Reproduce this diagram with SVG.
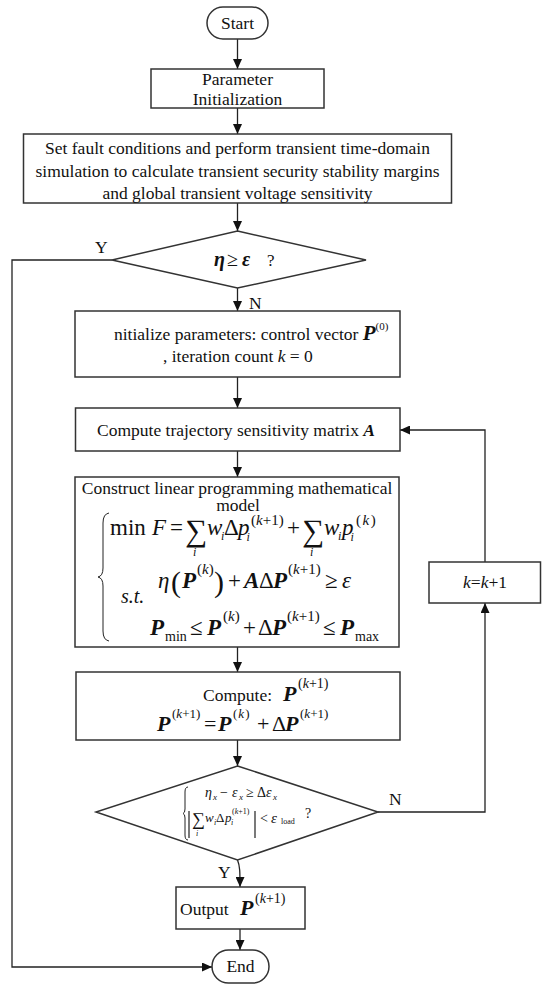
<svg xmlns="http://www.w3.org/2000/svg" width="550" height="990" viewBox="0 0 550 990">
<defs>
<marker id="ah" markerUnits="userSpaceOnUse" markerWidth="10" markerHeight="9" refX="10" refY="4.5" orient="auto">
<path d="M0,0 L10,4.5 L0,9 Z" fill="#111"/>
</marker>
<style>
.box{fill:#fff;stroke:#333;stroke-width:1.5}
.ln{fill:none;stroke:#222;stroke-width:1.3}
.t{font-family:"Liberation Serif","Times New Roman",serif;font-size:17.5px;fill:#111}
.m{font-family:"Liberation Serif","Times New Roman",serif;fill:#111}
.i{font-style:italic}
.bi{font-style:italic;font-weight:bold}
.br{fill:none;stroke:#222;stroke-width:1}
.bar{fill:none;stroke:#222;stroke-width:1.2}
</style>
</defs>
<rect width="550" height="990" fill="#fff"/>

<g id="connectors">
<path class="ln" d="M237.5,39 V69" marker-end="url(#ah)"/>
<path class="ln" d="M237.5,108 V134" marker-end="url(#ah)"/>
<path class="ln" d="M237.5,203 V231" marker-end="url(#ah)"/>
<path class="ln" d="M112,260 H12 V967 H212" marker-end="url(#ah)"/>
<path class="ln" d="M237.5,288 V311" marker-end="url(#ah)"/>
<path class="ln" d="M237.5,377 V408" marker-end="url(#ah)"/>
<path class="ln" d="M237.5,451 V477" marker-end="url(#ah)"/>
<path class="ln" d="M237.5,647 V672" marker-end="url(#ah)"/>
<path class="ln" d="M237.5,740 V766" marker-end="url(#ah)"/>
<path class="ln" d="M378,812 H485 V603" marker-end="url(#ah)"/>
<path class="ln" d="M485,562 V430 H400" marker-end="url(#ah)"/>
<path class="ln" d="M237.5,860 C240,866 240,872 240,887" marker-end="url(#ah)"/>
<path class="ln" d="M240,929 V950" marker-end="url(#ah)"/>
<text class="t" x="95" y="253">Y</text>
<text class="t" x="249" y="309">N</text>
<text class="t" x="389" y="805">N</text>
<text class="t" x="218" y="878">Y</text>
</g>

<g id="start">
<rect class="box" x="207" y="7" width="61" height="32" rx="16"/>
<text class="t" x="237.5" y="29" text-anchor="middle">Start</text>
</g>

<g id="param-init">
<rect class="box" x="151" y="69" width="173" height="39"/>
<text class="t" x="237.5" y="85" text-anchor="middle">Parameter</text>
<text class="t" x="237.5" y="105" text-anchor="middle">Initialization</text>
</g>

<g id="fault-sim">
<rect class="box" x="23.5" y="134" width="428" height="69"/>
<text class="t" x="237.5" y="154" text-anchor="middle">Set fault conditions and perform transient time-domain</text>
<text class="t" x="237.5" y="176.5" text-anchor="middle">simulation to calculate transient security stability margins</text>
<text class="t" x="237.5" y="198.5" text-anchor="middle">and global transient voltage sensitivity</text>
</g>

<g id="check1">
<polygon class="box" points="237.5,231 366,260 237.5,288 112,260"/>
<text class="m" font-size="20" y="266"><tspan class="bi" x="214">η</tspan><tspan x="227">≥</tspan><tspan class="bi" x="242">ε</tspan><tspan x="267" font-size="17">?</tspan></text>
</g>

<g id="init-params">
<rect class="box" x="75" y="311" width="325" height="66"/>
<text class="t" x="114" y="340">nitialize parameters: control vector <tspan class="bi" font-size="21">P</tspan><tspan font-size="11" dy="-10">(0)</tspan></text>
<text class="t" x="163" y="362">, iteration count <tspan class="i">k</tspan> = 0</text>
</g>

<g id="traj-sens">
<rect class="box" x="75.5" y="408" width="324.5" height="43"/>
<text class="t" x="97" y="436">Compute trajectory sensitivity matrix <tspan class="bi">A</tspan></text>
</g>

<g id="lp-model">
<rect class="box" x="75" y="477" width="324" height="170"/>
<text class="t" x="237" y="494" text-anchor="middle">Construct linear programming mathematical</text>
<text class="t" x="238" y="510.5" text-anchor="middle">model</text>
<path class="br" d="M109,513 Q103,514 103,523 V568 Q103,576 98,577 Q103,578 103,586 V631 Q103,640 109,641"/>
<text class="m" font-size="23" y="535"><tspan x="110">min</tspan><tspan class="i" x="152">F</tspan><tspan x="170">=</tspan><tspan x="185" y="541" font-size="31">∑</tspan><tspan class="i" x="207" y="535">w</tspan><tspan class="i" x="221" y="540" font-size="12">i</tspan><tspan x="224" y="535">Δ</tspan><tspan class="i" x="238">p</tspan><tspan class="i" x="246.5" y="541" font-size="12">i</tspan><tspan x="251" y="525" font-size="15">(<tspan class="i">k</tspan>+1)</tspan><tspan x="287" y="535">+</tspan><tspan x="302" y="541" font-size="31">∑</tspan><tspan class="i" x="324" y="535">w</tspan><tspan class="i" x="338" y="540" font-size="12">i</tspan><tspan class="i" x="342" y="535">p</tspan><tspan class="i" x="350.5" y="541" font-size="12">i</tspan><tspan x="356" y="525" font-size="15" letter-spacing="1.5">(<tspan class="i">k</tspan>)</tspan></text>
<text class="m i" font-size="12"><tspan x="193" y="556">i</tspan><tspan x="310" y="556">i</tspan></text>
<text class="m i" font-size="20" x="121" y="603">s.t.</text>
<text class="m" font-size="23" y="588"><tspan class="i" x="158">η</tspan><tspan x="171" y="592" font-size="30">(</tspan><tspan class="bi" x="182" y="588">P</tspan><tspan x="197" y="574" font-size="15">(<tspan class="i">k</tspan>)</tspan><tspan x="214" y="592" font-size="30">)</tspan><tspan x="228" y="588">+</tspan><tspan class="bi" x="244">A</tspan><tspan x="259">Δ</tspan><tspan class="bi" x="273">P</tspan><tspan x="288" y="574" font-size="15">(<tspan class="i">k</tspan>+1)</tspan><tspan x="325" y="588">≥</tspan><tspan class="i" x="342">ε</tspan></text>
<text class="m" font-size="23" y="635"><tspan class="bi" x="150">P</tspan><tspan x="165" y="641" font-size="14">min</tspan><tspan x="190" y="635">≤</tspan><tspan class="bi" x="207">P</tspan><tspan x="223" y="621" font-size="15">(<tspan class="i">k</tspan>)</tspan><tspan x="243" y="635">+</tspan><tspan x="258">Δ</tspan><tspan class="bi" x="272">P</tspan><tspan x="287" y="621" font-size="15">(<tspan class="i">k</tspan>+1)</tspan><tspan x="323" y="635">≤</tspan><tspan class="bi" x="340">P</tspan><tspan x="355" y="641" font-size="14">max</tspan></text>
</g>

<g id="k-update">
<rect class="box" x="429" y="562" width="111.5" height="41"/>
<text class="t" x="485" y="588" text-anchor="middle"><tspan class="i">k</tspan>=<tspan class="i">k</tspan>+1</text>
</g>

<g id="compute-p">
<rect class="box" x="76" y="672" width="324" height="68"/>
<text class="t" x="203" y="701">Compute:</text>
<text class="m" font-size="22" y="701"><tspan class="bi" x="283">P</tspan><tspan x="298" y="688" font-size="14">(<tspan class="i">k</tspan>+1)</tspan></text>
<text class="m" font-size="22" y="731"><tspan class="bi" x="157">P</tspan><tspan x="172" y="718" font-size="13">(<tspan class="i">k</tspan>+1)</tspan><tspan x="204" y="731">=</tspan><tspan class="bi" x="218">P</tspan><tspan x="233" y="718" font-size="13" letter-spacing="1">(<tspan class="i">k</tspan>)</tspan><tspan x="257" y="731">+</tspan><tspan x="272">Δ</tspan><tspan class="bi" x="285">P</tspan><tspan x="300" y="718" font-size="13">(<tspan class="i">k</tspan>+1)</tspan></text>
</g>

<g id="check2">
<polygon class="box" points="237.5,766 378,812 237.5,860 96,812"/>
<path class="br" d="M188,787 Q185,787 185,792 V809 Q185,813 183,813.5 Q185,814 185,818 V835 Q185,840 188,840"/>
<text class="m" font-size="14" y="797"><tspan class="i" x="205">η</tspan><tspan class="i" x="213" y="800" font-size="9">x</tspan><tspan x="220" y="797">−</tspan><tspan class="i" x="232">ε</tspan><tspan class="i" x="239" y="800" font-size="9">x</tspan><tspan x="246" y="797">≥</tspan><tspan x="257">Δ</tspan><tspan class="i" x="266">ε</tspan><tspan class="i" x="273" y="800" font-size="9">x</tspan></text>
<path class="bar" d="M189,811 V838 M255,811 V838"/>
<text class="m" font-size="13" y="822"><tspan x="192" font-size="18" y="825">∑</tspan><tspan class="i" x="205" y="822">w</tspan><tspan class="i" x="214" y="825" font-size="8">i</tspan><tspan x="216" y="822">Δ</tspan><tspan class="i" x="225">p</tspan><tspan class="i" x="231" y="825" font-size="8">i</tspan><tspan x="232" y="814" font-size="8">(<tspan class="i">k</tspan>+1)</tspan><tspan x="260" y="823" font-size="14">&lt;</tspan><tspan class="i" x="271" y="823" font-size="15">ε</tspan><tspan x="281" y="824" font-size="8">load</tspan></text>
<text class="m i" font-size="8" x="196" y="836">i</text>
<text class="m" font-size="14" x="305" y="818">?</text>
</g>

<g id="output">
<rect class="box" x="176" y="887" width="129" height="42"/>
<text class="t" x="180" y="915">Output</text>
<text class="m" font-size="22" y="915"><tspan class="bi" x="240">P</tspan><tspan x="255" y="903" font-size="14">(<tspan class="i">k</tspan>+1)</tspan></text>
</g>

<g id="end">
<rect class="box" x="212" y="950" width="57" height="33" rx="16.5"/>
<text class="t" x="240.5" y="972" text-anchor="middle">End</text>
</g>
</svg>
